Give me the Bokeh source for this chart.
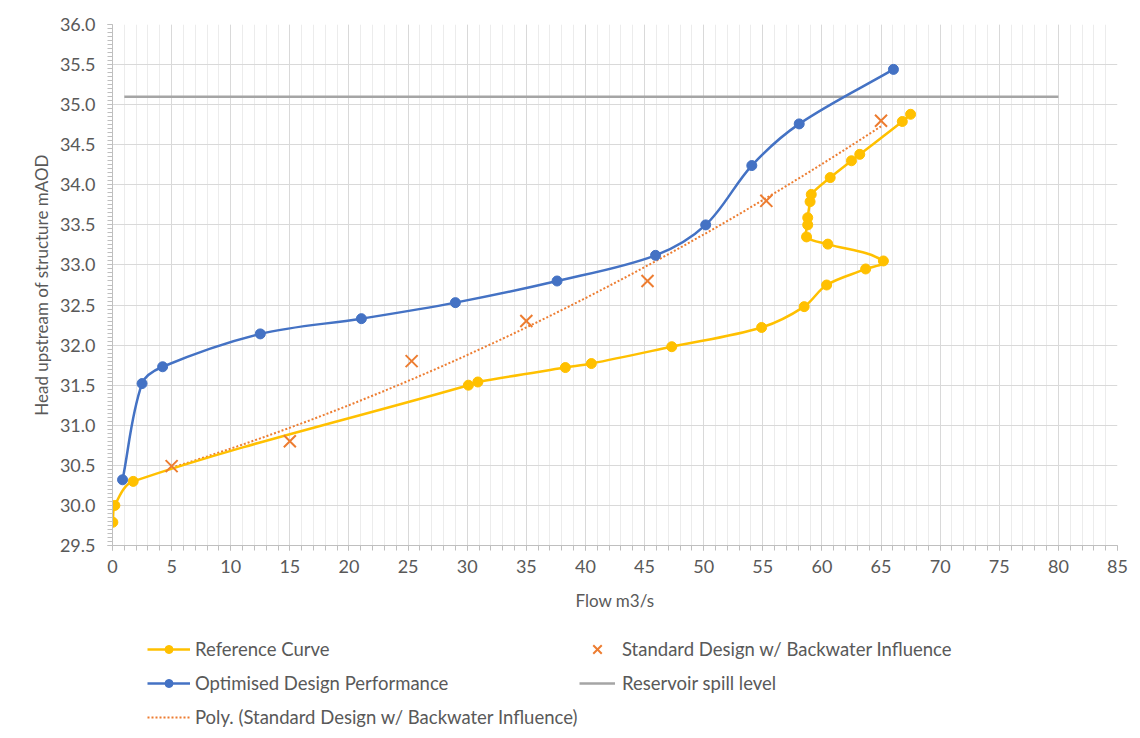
import numpy as np
from bokeh.plotting import figure
from bokeh.layouts import column
from bokeh.models import (SingleIntervalTicker, PrintfTickFormatter, Legend,
                          LegendItem, Range1d)
from bokeh.embed import file_html
from bokeh.resources import INLINE

# ---- data ----
ref_x = [0.03, 0.2, 1.75, 30.1, 30.9, 38.3, 40.5, 47.3, 54.9, 58.5, 60.4, 63.7,
         65.2, 60.5, 58.7, 58.8, 58.8, 59.0, 59.1, 60.7, 62.5, 63.2, 66.8, 67.5]
ref_y = [29.79, 30.0, 30.3, 31.5, 31.54, 31.72, 31.77, 31.98, 32.22, 32.48, 32.75, 32.95,
         33.05, 33.26, 33.35, 33.5, 33.59, 33.79, 33.88, 34.09, 34.3, 34.38, 34.79, 34.88]

opt_x = [0.85, 2.5, 4.24, 12.5, 21.05, 29.0, 37.6, 45.93, 50.17, 54.07, 58.08, 66.05]
opt_y = [30.32, 31.52, 31.73, 32.14, 32.33, 32.53, 32.80, 33.12, 33.50, 34.24, 34.76, 35.44]

std_x = [5.0, 15.0, 25.3, 35.0, 45.25, 55.3, 65.0]
std_y = [30.49, 30.80, 31.80, 32.30, 32.80, 33.80, 34.80]

spill_x = [1, 80]
spill_y = [35.1, 35.1]

YELLOW = "#FFC000"
BLUE = "#4472C4"
ORANGE = "#ED7D31"
GREY = "#A5A5A5"
TXT = "#595959"
FONT = "Lato"

# approximate screen aspect (px per data unit) used only to shape the smoothing
SX, SY = 11.8, 80.15


def smooth_segments(xs, ys):
    """Excel-like smoothed line: cubic Bezier segments with tangent direction
    from the neighbouring points and handle length tied to segment length."""
    x = np.asarray(xs, float) * SX
    y = np.asarray(ys, float) * SY
    n = len(x)
    tx = np.empty(n)
    ty = np.empty(n)
    for i in range(n):
        a = max(i - 1, 0)
        b = min(i + 1, n - 1)
        dx, dy = x[b] - x[a], y[b] - y[a]
        d = np.hypot(dx, dy) or 1.0
        tx[i], ty[i] = dx / d, dy / d
    L = np.hypot(np.diff(x), np.diff(y))
    k = L / 3.0
    cx0 = x[:-1] + tx[:-1] * k
    cy0 = y[:-1] + ty[:-1] * k
    cx1 = x[1:] - tx[1:] * k
    cy1 = y[1:] - ty[1:] * k
    return dict(x0=x[:-1] / SX, y0=y[:-1] / SY, x1=x[1:] / SX, y1=y[1:] / SY,
                cx0=cx0 / SX, cy0=cy0 / SY, cx1=cx1 / SX, cy1=cy1 / SY)


p = figure(width=1140, height=628, x_range=Range1d(0, 85), y_range=Range1d(29.5, 36),
           output_backend="svg", toolbar_location=None,
           min_border_left=112, min_border_right=23, min_border_top=24,
           min_border_bottom=83)
p.outline_line_color = None

xt = SingleIntervalTicker(interval=5, num_minor_ticks=5)
yt = SingleIntervalTicker(interval=0.5, num_minor_ticks=10)
p.xaxis.ticker = xt
p.yaxis.ticker = yt
p.xgrid.ticker = xt
p.ygrid.ticker = yt
p.xgrid.grid_line_color = "#d9d9d9"
p.ygrid.grid_line_color = "#d9d9d9"
p.xgrid.minor_grid_line_color = "#ececec"
p.ygrid.minor_grid_line_color = None
p.yaxis.formatter = PrintfTickFormatter(format="%.1f")

for ax in (p.xaxis[0], p.yaxis[0]):
    ax.axis_line_color = "#bfbfbf"
    ax.major_tick_line_color = "#bfbfbf"
    ax.minor_tick_line_color = "#bfbfbf"
    ax.major_tick_in = 0
    ax.major_tick_out = 5
    ax.minor_tick_in = 0
    ax.minor_tick_out = 5
    ax.major_label_text_font = FONT
    ax.major_label_text_font_size = "18px"
    ax.major_label_text_color = TXT
    ax.axis_label_text_font = FONT
    ax.axis_label_text_font_size = "17px"
    ax.axis_label_text_color = TXT
    ax.axis_label_text_font_style = "normal"

p.xaxis.axis_label = "Flow m3/s"
p.yaxis.axis_label = "Head upstream of structure mAOD"
p.xaxis.major_label_standoff = 9
p.yaxis.major_label_standoff = 12
p.xaxis.axis_label_standoff = 14
p.yaxis.axis_label_standoff = 5

# reservoir spill level
p.line(spill_x, spill_y, line_color=GREY, line_width=2.5)

# polynomial trendline (order 2) fitted to the standard design points
coef = np.polyfit(std_x, std_y, 2)
trx = np.linspace(min(std_x), max(std_x), 120)
p.line(trx, np.polyval(coef, trx), line_color=ORANGE, line_width=2, line_dash="2 2")

# reference curve
p.bezier(line_color=YELLOW, line_width=2.5, **smooth_segments(ref_x, ref_y))
p.scatter(ref_x, ref_y, marker="circle", size=10, fill_color=YELLOW, line_color=YELLOW)

# optimised design
p.bezier(line_color=BLUE, line_width=2.5, **smooth_segments(opt_x, opt_y))
p.scatter(opt_x, opt_y, marker="circle", size=10, fill_color=BLUE, line_color=BLUE)

# standard design
p.scatter(std_x, std_y, marker="x", size=17, line_color=ORANGE, line_width=2)

# ---- legend strip (separate figure so it is not clipped) ----
lg = figure(width=1140, height=108, x_range=Range1d(0, 1), y_range=Range1d(0, 1),
            output_backend="svg", toolbar_location=None,
            x_axis_type=None, y_axis_type=None,
            min_border_left=0, min_border_right=0, min_border_top=0,
            min_border_bottom=0)
lg.outline_line_color = None
lg.xgrid.visible = False
lg.ygrid.visible = False

# legend stand-ins placed outside the visible range of the legend strip
hx, hy = [5, 6], [5, 6]
d_ref_l = lg.line(hx, hy, line_color=YELLOW, line_width=2.5)
d_ref_m = lg.scatter(hx, hy, marker="circle", fill_color=YELLOW, line_color=YELLOW)
d_opt_l = lg.line(hx, hy, line_color=BLUE, line_width=2.5)
d_opt_m = lg.scatter(hx, hy, marker="circle", fill_color=BLUE, line_color=BLUE)
d_trend = lg.line(hx, hy, line_color=ORANGE, line_width=2, line_dash="2 2")
d_std = lg.scatter(hx, hy, marker="x", line_color=ORANGE, line_width=2)
d_spill = lg.line(hx, hy, line_color=GREY, line_width=2.5)

leg1 = Legend(items=[
    LegendItem(label="Reference Curve", renderers=[d_ref_l, d_ref_m]),
    LegendItem(label="Optimised Design Performance", renderers=[d_opt_l, d_opt_m]),
    LegendItem(label="Poly. (Standard Design w/ Backwater Influence)", renderers=[d_trend]),
], location=(35, 8), glyph_width=43, glyph_height=20, label_height=20,
    spacing=12, label_standoff=5, padding=0, margin=0)

leg2 = Legend(items=[
    LegendItem(label="Standard Design w/ Backwater Influence", renderers=[d_std]),
    LegendItem(label="Reservoir spill level", renderers=[d_spill]),
], location=(467, 38), glyph_width=36, glyph_height=30, label_height=30,
    spacing=4, label_standoff=7, padding=0, margin=0)

for L in (leg1, leg2):
    L.label_text_font = FONT
    L.label_text_font_size = "18.5px"
    L.label_text_color = TXT
    L.border_line_color = None
    L.background_fill_alpha = 0
    lg.add_layout(L, "center")

layout = column(p, lg, spacing=0)
open("out.html", "w").write(file_html(layout, INLINE))
